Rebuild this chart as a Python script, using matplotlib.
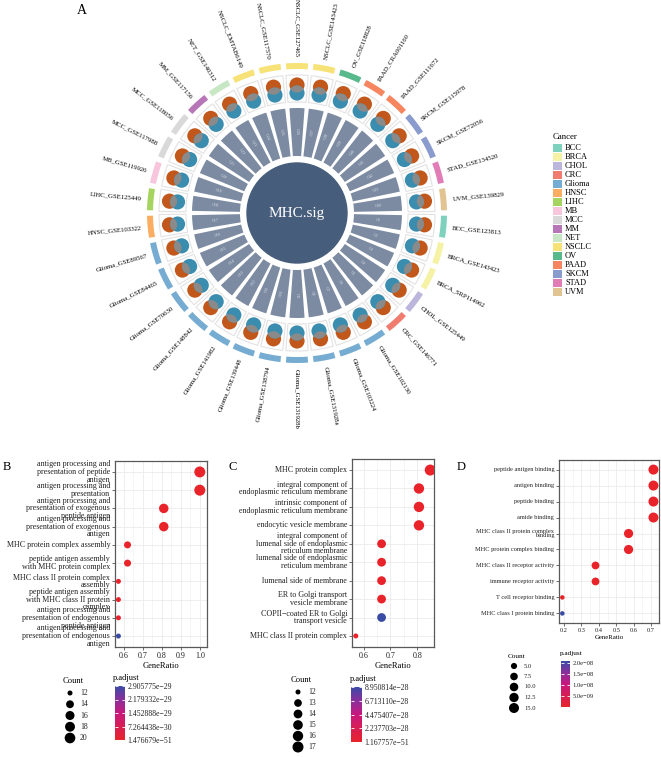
import matplotlib.pyplot as plt
import numpy as np
from matplotlib.patches import Wedge, Circle
from matplotlib.colors import LinearSegmentedColormap, Normalize
from matplotlib.cm import ScalarMappable

plt.rcParams['font.family'] = ['Liberation Serif', 'DejaVu Serif']

W, H = 661, 757

# ---------------- panel A data ----------------
datasets = ['BCC_GSE123813', 'BRCA_GSE143423', 'BRCA_SRP114962', 'CHOL_GSE125449',
            'CRC_GSE146771', 'Glioma_GSE102130', 'Glioma_GSE103224', 'Glioma_GSE131928a',
            'Glioma_GSE131928b', 'Glioma_GSE138794', 'Glioma_GSE139448', 'Glioma_GSE141982',
            'Glioma_GSE148842', 'Glioma_GSE70630', 'Glioma_GSE84465', 'Glioma_GSE89567',
            'HNSC_GSE103322', 'LIHC_GSE125449', 'MB_GSE119926', 'MCC_GSE117988',
            'MCC_GSE118056', 'MM_GSE117156', 'NET_GSE140312', 'NSCLC_EMTAB6149',
            'NSCLC_GSE117570', 'NSCLC_GSE127465', 'NSCLC_GSE143423', 'OV_GSE118828',
            'PAAD_CRA001160', 'PAAD_GSE111672', 'SKCM_GSE115978', 'SKCM_GSE72056',
            'STAD_GSE134520', 'UVM_GSE139829']
gene_ids = ['G%d' % (i + 1) for i in range(len(datasets))]
cancer_levels = ['BCC', 'BRCA', 'CHOL', 'CRC', 'Glioma', 'HNSC', 'LIHC', 'MB', 'MCC',
                 'MM', 'NET', 'NSCLC', 'OV', 'PAAD', 'SKCM', 'STAD', 'UVM']
cancer_colors = ['#7dd1bd', '#f5f2a6', '#bcb5dc', '#f07c70', '#76acd1', '#fbae62',
                 '#a6d460', '#f8c6dc', '#d9d9d9', '#b676b8', '#c8e8c5', '#f7e277',
                 '#58b98c', '#f5865f', '#8a9bcd', '#e17cb6', '#e2c492']

# ---------------- panels B-D data ----------------
terms_b = ['antigen processing and\npresentation of peptide\nantigen',
           'antigen processing and\npresentation',
           'antigen processing and\npresentation of exogenous\npeptide antigen',
           'antigen processing and\npresentation of exogenous\nantigen',
           'MHC protein complex assembly',
           'peptide antigen assembly\nwith MHC protein complex',
           'MHC class II protein complex\nassembly',
           'peptide antigen assembly\nwith MHC class II protein\ncomplex',
           'antigen processing and\npresentation of endogenous\npeptide antigen',
           'antigen processing and\npresentation of endogenous\nantigen']
ratio_b = [1.0, 1.0, 0.81, 0.81, 0.619, 0.619, 0.571, 0.571, 0.571, 0.571]
count_b = [21, 21, 17, 17, 13, 13, 12, 12, 12, 12]
padj_b = [1.476679e-51, 1.6e-51, 2.3e-40, 3.1e-40, 4.2e-35, 6.5e-35,
          2.1e-31, 3.3e-31, 8.7e-31, 2.905775e-29]
count_breaks_b = [12, 14, 16, 18, 20]
padj_labels_b = ['2.905775e\u221229', '2.179332e\u221229', '1.452888e\u221229',
                 '7.264438e\u221230', '1.476679e\u221251']

terms_c = ['MHC protein complex',
           'integral component of\nendoplasmic reticulum membrane',
           'intrinsic component of\nendoplasmic reticulum membrane',
           'endocytic vesicle membrane',
           'integral component of\nlumenal side of endoplasmic\nreticulum membrane',
           'lumenal side of endoplasmic\nreticulum membrane',
           'lumenal side of membrane',
           'ER to Golgi transport\nvesicle membrane',
           'COPII\u2212coated ER to Golgi\ntransport vesicle',
           'MHC class II protein complex']
ratio_c = [0.848, 0.806, 0.806, 0.806, 0.667, 0.667, 0.667, 0.667, 0.667, 0.571]
count_c = [17, 16, 16, 16, 14, 14, 14, 14, 14, 12]
padj_c = [1.167757e-51, 2e-45, 2.5e-45, 5e-44, 3e-38, 4e-38, 6e-38, 1e-36,
          8.950814e-28, 3e-35]
count_breaks_c = [12, 13, 14, 15, 16, 17]
padj_labels_c = ['8.950814e\u221228', '6.713110e\u221228', '4.475407e\u221228',
                 '2.237703e\u221228', '1.167757e\u221251']

terms_d = ['peptide antigen binding', 'antigen binding', 'peptide binding',
           'amide binding', 'MHC class II protein complex\nbinding',
           'MHC protein complex binding', 'MHC class II receptor activity',
           'immune receptor activity', 'T cell receptor binding',
           'MHC class I protein binding']
ratio_d = [0.714, 0.714, 0.714, 0.714, 0.571, 0.571, 0.381, 0.381, 0.19, 0.19]
count_d = [15, 15, 15, 15, 12, 12, 8, 8, 4, 4]
padj_d = [1e-20, 2e-20, 3e-20, 5e-20, 1e-15, 2e-15, 3e-12, 4e-12, 1e-10, 2.09e-8]
count_breaks_d = [5.0, 7.5, 10.0, 12.5, 15.0]
padj_ticks_d = [2.0e-8, 1.5e-8, 1.0e-8, 5.0e-9]

cmap = LinearSegmentedColormap.from_list(
    'padj', [(0, '#e8232a'), (0.5, '#c8187e'), (0.75, '#8a2f9c'), (1, '#3a4ba6')])

fig = plt.figure(figsize=(W / 100, H / 100), dpi=100)


def px_axes(left, top, right, bottom):
    return fig.add_axes([left / W, 1 - bottom / H, (right - left) / W, (bottom - top) / H])


def ftext(x, y, s, **kw):
    fig.text(x / W, 1 - y / H, s, **kw)


# ---------------- panel A: circular plot ----------------
ax = px_axes(77, 0, 517, 426)
ax.set_xlim(-220, 220)
ax.set_ylim(-213, 213)
ax.axis('off')

n = len(datasets)
step = 360 / n
col_of = dict(zip(cancer_levels, cancer_colors))


def rot_rule(a):
    a = (a + 180) % 360 - 180
    if -90.01 <= a < 89.99:
        return a, 'left'
    return a + 180, 'right'


ax.add_patch(Circle((0, 0), 50, color='#465d7b', zorder=2))
ax.text(0, 0, 'MHC.sig', color='white', fontsize=11, ha='center', va='center', zorder=3)

for i, name in enumerate(datasets):
    ang = -(i + 0.5) * step
    rad = np.deg2rad(ang)
    # signature bars
    ax.add_patch(Wedge((0, 0), 105, ang - step * 0.39, ang + step * 0.39, width=48,
                       color='#7c8ba2', lw=0))
    rot, _ = rot_rule(ang)
    ax.text(82 * np.cos(rad), 82 * np.sin(rad), gene_ids[i], color='#dfe3ea', fontsize=3,
            rotation=rot, ha='center', va='center', rotation_mode='anchor')
    # venn cells
    ax.add_patch(Wedge((0, 0), 138, ang - step * 0.44, ang + step * 0.44, width=27,
                       facecolor='white', edgecolor='#e2e2e2', lw=0.8))
    oc = Circle((128 * np.cos(rad), 128 * np.sin(rad)), 7.6, color='#c1571a', lw=0, zorder=3)
    tc = Circle((120 * np.cos(rad), 120 * np.sin(rad)), 7.6, color='#3b8daf', lw=0, zorder=3)
    ax.add_patch(oc)
    ax.add_patch(tc)
    gc = Circle((120 * np.cos(rad), 120 * np.sin(rad)), 7.6, color='#8a8a8a', lw=0, zorder=4)
    ax.add_patch(gc)
    gc.set_clip_path(oc)
    # cancer ring
    cancer = name.split('_')[0]
    ax.add_patch(Wedge((0, 0), 150, ang - step * 0.4, ang + step * 0.4, width=6,
                       color=col_of[cancer], lw=0))
    rot, ha = rot_rule(ang)
    ax.text(156 * np.cos(rad), 156 * np.sin(rad), name, fontsize=4.9, rotation=rot, ha=ha,
            va='center', rotation_mode='anchor')

ftext(82, 10, 'A', fontsize=10, ha='center', va='center')

# cancer legend
lax = px_axes(553, 143.5, 600, 296.5)
lax.set_xlim(0, 47)
lax.set_ylim(len(cancer_levels) - 0.5, -0.5)
lax.axis('off')
lax.barh(np.arange(len(cancer_levels)), 8.5, height=0.92, color=cancer_colors)
for k, lev in enumerate(cancer_levels):
    lax.text(12, k, lev, fontsize=6, va='center', ha='left')
ftext(553, 137, 'Cancer', fontsize=6.3, ha='left', va='center')


# ---------------- dotplots ----------------
def dot_area(c, crange, drange):
    t = np.sqrt(np.clip((np.asarray(c, float) - crange[0]) / (crange[1] - crange[0]), 0, 1))
    d = drange[0] + (drange[1] - drange[0]) * t
    return (d * 0.72) ** 2


def dotplot(box, terms, ratio, count, padj, xlim, xticks, fs, crange, drange):
    a = px_axes(*box)
    y = np.arange(len(terms))
    norm = Normalize(min(padj), max(padj))
    a.scatter(ratio, y, s=dot_area(count, crange, drange), c=padj, cmap=cmap, norm=norm,
              linewidths=0, zorder=3)
    a.set_xlim(*xlim)
    a.set_ylim(len(terms) - 0.4, -0.6)
    a.set_xticks(xticks)
    a.set_xticks(np.array(xticks[:-1]) + (xticks[1] - xticks[0]) / 2, minor=True)
    a.set_xticklabels(['%.1f' % v for v in xticks])
    a.set_yticks(y)
    a.set_yticklabels(terms)
    for t in a.get_yticklabels():
        t.set_linespacing(0.95)
        t.set_va('center')
    a.grid(True, which='major', color='#ebebeb', lw=0.6)
    a.grid(True, which='minor', axis='x', color='#f2f2f2', lw=0.5)
    a.set_axisbelow(True)
    for s in a.spines.values():
        s.set_color('#595959')
        s.set_linewidth(0.9)
    a.tick_params(axis='both', which='major', length=2, width=0.5, color='#333333',
                  labelsize=fs, labelcolor='#222222', pad=1.5)
    a.tick_params(axis='x', which='minor', length=0)
    a.set_xlabel('GeneRatio', fontsize=fs + 0.3, labelpad=1.5)
    return norm


def count_legend(x, y0, y1, breaks, crange, drange, fs, title_y):
    la = px_axes(x - 15, y0 - (y1 - y0) / (2 * (len(breaks) - 1)), x + 30,
                 y1 + (y1 - y0) / (2 * (len(breaks) - 1)))
    la.set_xlim(-15, 30)
    la.set_ylim(len(breaks) - 0.5, -0.5)
    la.axis('off')
    la.scatter([0] * len(breaks), np.arange(len(breaks)), s=dot_area(breaks, crange, drange),
               color='black', linewidths=0)
    for k, b in enumerate(breaks):
        lbl = ('%.1f' % b) if isinstance(b, float) else str(b)
        la.text(10, k, lbl, fontsize=fs, va='center', ha='left', color='#222222')
    ftext(x + 3, title_y, 'Count', fontsize=fs + 0.5, ha='center', va='center')


def padj_bar(box, norm, ticks, labels, fs, title_xy):
    cax = px_axes(*box)
    cb = fig.colorbar(ScalarMappable(norm=norm, cmap=cmap), cax=cax, ticks=ticks)
    cb.outline.set_visible(False)
    cax.set_yticklabels(labels)
    cax.tick_params(length=2, width=0.6, color='white', direction='in', labelsize=fs,
                    labelcolor='#222222', pad=2, right=True, left=True, labelleft=False)
    ftext(title_xy[0], title_xy[1], 'p.adjust', fontsize=fs + 0.5, ha='left', va='center')


# B
norm_b = dotplot((115, 461, 207, 647), terms_b, ratio_b, count_b, padj_b, (0.553, 1.038),
                 [0.6, 0.7, 0.8, 0.9, 1.0], 5.8, (12, 21), (5, 11))
ftext(7, 467, 'B', fontsize=9, ha='center', va='center')
count_legend(70, 693, 738, count_breaks_b, (12, 21), (5, 11), 5.6, 681)
padj_bar((115, 686, 125, 740), norm_b, np.linspace(max(padj_b), min(padj_b), 5),
         padj_labels_b, 5.6, (113, 678))

# C
norm_c = dotplot((352, 459, 434, 647), terms_c, ratio_c, count_c, padj_c, (0.557, 0.862),
                 [0.6, 0.7, 0.8], 5.8, (12, 17), (5, 11))
ftext(233, 467, 'C', fontsize=9, ha='center', va='center')
count_legend(298, 692, 747, count_breaks_c, (12, 17), (5, 11), 5.6, 680)
padj_bar((351, 687, 362, 742), norm_c, np.linspace(max(padj_c), min(padj_c), 5),
         padj_labels_c, 5.6, (350, 679))

# D
norm_d = dotplot((559, 460, 659, 623), terms_d, ratio_d, count_d, padj_d, (0.171, 0.746),
                 [0.2, 0.3, 0.4, 0.5, 0.6, 0.7], 4.6, (4, 15), (4.5, 10))
ftext(461, 467, 'D', fontsize=9, ha='center', va='center')
count_legend(514, 666, 708, count_breaks_d, (4, 15), (4.5, 10), 4.7, 656)
padj_bar((561, 661, 570, 707), norm_d, padj_ticks_d,
         [('%.1e' % v).replace('-', '\u2212') for v in padj_ticks_d], 4.7, (560, 654))

fig.savefig('out.png', dpi=100, facecolor='white')
